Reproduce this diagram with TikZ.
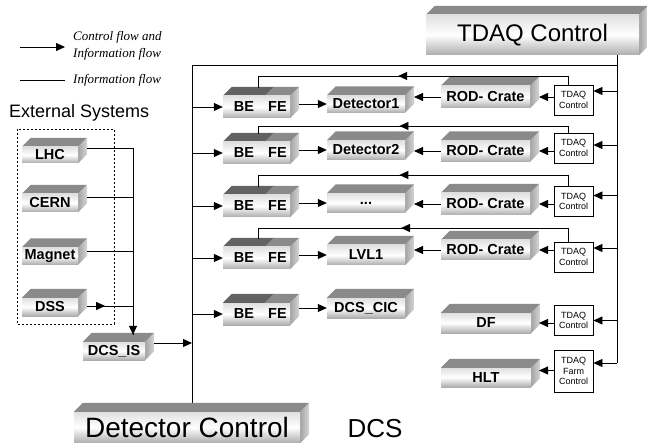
\documentclass[tikz,border=0pt]{standalone}
\usepackage{fontspec}
\setmainfont{Liberation Sans}
\newfontfamily\legendfont{Liberation Serif}
\usepackage{xcolor}
\usepackage{tikz}
\usetikzlibrary{arrows.meta,calc,decorations.markings}

\definecolor{slabdark}{HTML}{626262}
\definecolor{slabmid}{HTML}{8A8A8A}
\definecolor{slabside}{HTML}{A4A4A4}
\definecolor{slabsidelight}{HTML}{D6D6D6}
\definecolor{slabhigh}{HTML}{E0E0E0}
\definecolor{slablow}{HTML}{ADADAD}

\tikzset{
  % 3d box: shaded front face, top face and right face
  slab/.style={inner sep=0pt, top color=slabhigh, bottom color=slablow, middle color=white,
    font=\bfseries\fontsize{14.5}{16}\selectfont,
    append after command={\pgfextra{
        \fill[#1] (\tikzlastnode.north west) -- ++(9pt,9pt)
          -- ([shift={(9pt,9pt)}]\tikzlastnode.north east) -- (\tikzlastnode.north east) -- cycle;
        \shade[left color=slabside, right color=slabsidelight] (\tikzlastnode.north east) -- ++(9pt,9pt)
          -- ([shift={(9pt,9pt)}]\tikzlastnode.south east) -- (\tikzlastnode.south east) -- cycle;}}},
  slab/.default=slabmid,
  ctlbox/.style={draw, line width=0.8pt, fill=white, inner sep=0pt, minimum width=39pt,
    minimum height=30pt, align=center, font=\fontsize{9}{10.5}\selectfont},
  link/.style={line width=0.8pt},
  flow/.style={line width=0.8pt, -{Triangle[length=9pt,width=8pt]}},
  midflow/.style={line width=0.8pt, postaction={decorate}, decoration={markings,
    mark=at position #1 with {\arrow{Triangle[length=9pt,width=8pt]}}}}
}

\begin{document}
\begin{tikzpicture}[x=1pt, y=-1pt]
  \clip (0,0) rectangle (647,443);
  \useasboundingbox (0,0) rectangle (647,443);

  % legend
  \coordinate (leg1s) at (20,47);
  \coordinate (leg1e) at (65,47);
  \coordinate (leg2s) at (20,80);
  \coordinate (leg2e) at (65,80);
  \draw[flow] (leg1s) -- (leg1e);
  \draw[link] (leg2s) -- (leg2e);
  \node[anchor=west, align=left, inner sep=0pt, font=\legendfont\itshape\fontsize{13}{17}\selectfont] (legtxt1) at (73,46) {Control flow and\\Information flow};
  \node[anchor=west, inner sep=0pt, font=\legendfont\itshape\fontsize{13}{17}\selectfont] (legtxt2) at (73,80) {Information flow};

  % external systems
  \node[anchor=west, inner sep=0pt, font=\fontsize{18}{21}\selectfont] (exttitle) at (9,113) {External Systems};
  \draw[line width=0.7pt, dash pattern=on 2pt off 2pt] (17,129) rectangle (114,324);

  \node[slab, minimum width=56pt, minimum height=16pt] (LHC) at (50,155) {LHC};
  \node[slab, minimum width=56pt, minimum height=18pt] (CERN) at (50,203) {CERN};
  \node[slab, minimum width=56pt, minimum height=17pt] (Magnet) at (50,256) {Magnet};
  \node[slab, minimum width=56pt, minimum height=18pt] (DSS) at (50,307) {DSS};
  \node[slab, minimum width=62pt, minimum height=18pt] (DCSIS) at (114,351) {DCS\_IS};

  % big boxes
  \node[slab, minimum width=213pt, minimum height=40pt, font=\fontsize{24}{28}\selectfont] (TDAQ) at (532.5,35) {TDAQ Control};
  \node[slab, minimum width=226pt, minimum height=31pt, text depth=0pt, font=\fontsize{28}{32}\selectfont] (DC) at (187,427.5) {Detector Control};
  \node[inner sep=0pt, text depth=0pt, font=\fontsize{26}{30}\selectfont] (DCS) at (375,428) {DCS};

  % BE FE boxes
  \node[slab=slabdark, minimum width=42pt, minimum height=22pt] (BE1) at (244,107) {BE};
  \node[slab, minimum width=25pt, minimum height=22pt] (FE1) at (277.5,107) {FE};
  \node[slab=slabdark, minimum width=42pt, minimum height=22pt] (BE2) at (244,153) {BE};
  \node[slab, minimum width=25pt, minimum height=22pt] (FE2) at (277.5,153) {FE};
  \node[slab=slabdark, minimum width=42pt, minimum height=22pt] (BE3) at (244,206) {BE};
  \node[slab, minimum width=25pt, minimum height=22pt] (FE3) at (277.5,206) {FE};
  \node[slab=slabdark, minimum width=42pt, minimum height=22pt] (BE4) at (244,258) {BE};
  \node[slab, minimum width=25pt, minimum height=22pt] (FE4) at (277.5,258) {FE};
  \node[slab=slabdark, minimum width=42pt, minimum height=22pt] (BE5) at (244,314) {BE};
  \node[slab, minimum width=25pt, minimum height=22pt] (FE5) at (277.5,314) {FE};

  % detectors
  \node[slab, minimum width=78pt, minimum height=17pt] (DET1) at (366,104) {Detector1};
  \node[slab, minimum width=78pt, minimum height=19pt] (DET2) at (366,150) {Detector2};
  \node[slab, minimum width=78pt, minimum height=19pt] (DET3) at (366,203) {...};
  \node[slab, minimum width=78pt, minimum height=20pt] (DET4) at (366,255) {LVL1};
  \node[slab, minimum width=78pt, minimum height=20pt] (DET5) at (366,308) {DCS\_CIC};

  % crates and farms
  \node[slab, minimum width=89pt, minimum height=22pt] (ROD1) at (485.5,97) {ROD- Crate};
  \node[slab, minimum width=89pt, minimum height=21pt] (ROD2) at (485.5,151) {ROD- Crate};
  \node[slab, minimum width=89pt, minimum height=22pt] (ROD3) at (485.5,204) {ROD- Crate};
  \node[slab, minimum width=89pt, minimum height=20pt] (ROD4) at (485.5,250) {ROD- Crate};
  \node[slab, minimum width=90pt, minimum height=20pt] (DF) at (486,323) {DF};
  \node[slab, minimum width=90pt, minimum height=19pt] (HLT) at (486,377.5) {HLT};

  % local TDAQ controls
  \node[ctlbox] (T1) at (573.5,100) {TDAQ\\Control};
  \node[ctlbox] (T2) at (573.5,148) {TDAQ\\Control};
  \node[ctlbox] (T3) at (573.5,201.5) {TDAQ\\Control};
  \node[ctlbox] (T4) at (573.5,257) {TDAQ\\Control};
  \node[ctlbox] (TDF) at (573.5,320.5) {TDAQ\\Control};
  \node[ctlbox, minimum height=42pt] (THLT) at (573.5,371) {TDAQ\\Farm\\Control};

  % buses
  \coordinate (isin) at ([shift={(19pt,7pt)}]DCSIS.north);
  \coordinate (mainbus) at (192,65);
  \coordinate (tdaqbus) at (617,65);
  \coordinate (feside) at (299,0);
  \coordinate (detside) at (414,0);
  \coordinate (rodside) at (539,0);

  \draw[flow] ([shift={(9pt,7pt)}]LHC.east) -| (isin);
  \draw[link] ([shift={(9pt,6pt)}]CERN.east) -| (isin);
  \draw[link] ([shift={(9pt,5pt)}]Magnet.east) -| (isin);
  \draw[midflow=0.24] ([shift={(9pt,1pt)}]DSS.east) -| (isin);
  \draw[flow] ($(DCSIS.east)+(9,-8)$) -- ($(DCSIS.east -| mainbus)+(0,-8)$);

  \draw[link] ($(DC.north -| mainbus)+(0,-9)$) -- (mainbus) -- (tdaqbus);
  \draw[link] (TDAQ.south -| tdaqbus) -- ($(THLT.east -| tdaqbus)+(0,-8)$);

  \draw[flow] (BE1.west -| mainbus) -- (BE1.west);
  \draw[flow] (BE2.west -| mainbus) -- (BE2.west);
  \draw[flow] (BE3.west -| mainbus) -- (BE3.west);
  \draw[flow] (BE4.west -| mainbus) -- (BE4.west);
  \draw[flow] (BE5.west -| mainbus) -- (BE5.west);

  \draw[flow] (DET1.west -| feside) -- (DET1.west);
  \draw[flow] (DET2.west -| feside) -- (DET2.west);
  \draw[flow] (DET3.west -| feside) -- (DET3.west);
  \draw[flow] (DET4.west -| feside) -- (DET4.west);
  \draw[flow] (DET5.west -| feside) -- (DET5.west);

  \draw[flow] (ROD1.west) -- (ROD1.west -| detside);
  \draw[flow] (ROD2.west) -- (ROD2.west -| detside);
  \draw[flow] (ROD3.west) -- (ROD3.west -| detside);
  \draw[flow] (ROD4.west) -- (ROD4.west -| detside);

  \draw[flow] (T1.west |- ROD1.east) -- (ROD1.east -| rodside);
  \draw[flow] (T2.west |- ROD2.east) -- (ROD2.east -| rodside);
  \draw[flow] (T3.west |- ROD3.east) -- (ROD3.east -| rodside);
  \draw[flow] (T4.west |- ROD4.east) -- (ROD4.east -| rodside);
  \draw[flow] (TDF.west |- DF.east) -- (DF.east -| rodside);
  \draw[flow] ($(THLT.west |- HLT.east)+(0,-7)$) -- ($(HLT.east -| rodside)+(0,-7)$);

  \draw[flow] ($(T1.east -| tdaqbus)+(0,-9)$) -- ($(T1.east)+(0,-9)$);
  \draw[flow] ($(T2.east -| tdaqbus)+(0,-3)$) -- ($(T2.east)+(0,-3)$);
  \draw[flow] ($(T3.east -| tdaqbus)+(0,-6)$) -- ($(T3.east)+(0,-6)$);
  \draw[flow] ($(T4.east -| tdaqbus)+(0,-9)$) -- ($(T4.east)+(0,-9)$);
  \draw[flow] (TDF.east -| tdaqbus) -- (TDF.east);
  \draw[flow] ($(THLT.east -| tdaqbus)+(0,-8)$) -- ($(THLT.east)+(0,-8)$);

  % return lines to BE
  \coordinate (ret1) at (258,76);
  \coordinate (ret2) at (258,126);
  \coordinate (ret3) at (258,175);
  \coordinate (ret4) at (258,228);
  \draw[midflow=0.54] ([xshift=-5.5pt]T1.north) |- (ret1) -- ($(ret1 |- BE1.north)+(0,-8)$);
  \draw[midflow=0.54] ([xshift=-5.5pt]T2.north) |- (ret2) -- ($(ret2 |- BE2.north)+(0,-8)$);
  \draw[midflow=0.54] ([xshift=-5.5pt]T3.north) |- (ret3) -- ($(ret3 |- BE3.north)+(0,-8)$);
  \draw[midflow=0.54] ([xshift=-5.5pt]T4.north) |- (ret4) -- ($(ret4 |- BE4.north)+(0,-8)$);

\end{tikzpicture}
\end{document}
